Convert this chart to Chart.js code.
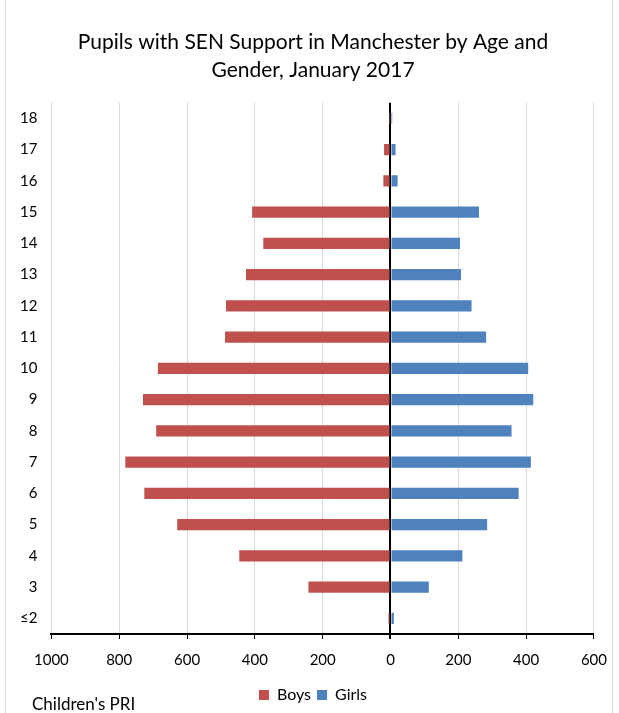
<!DOCTYPE html>
<html lang="en">
  <head>
    <meta charset="UTF-8" />
    <title>Pupils with SEN Support</title>
    <script src="https://cdn.jsdelivr.net/npm/chart.js@4.4.0/dist/chart.umd.min.js"></script>
    <style>
      body { margin: 0; background: #fff; }
      #wrap { position: relative; width: 619px; height: 713px; }
      #frame { position: absolute; left: 5px; top: -2px; width: 606px; height: 720px; border: 1px solid #d9d9d9; }
    </style>
  </head>
  <body>
    <div id="wrap">
      <div id="frame"></div>
      <canvas id="chart" width="619" height="713"></canvas>
    </div>

    <script>
      // ages, top row first
      const ages = ["18", "17", "16", "15", "14", "13", "12", "11", "10", "9", "8", "7", "6", "5", "4", "3", "≤2"];
      // boys shown to the left, so negative
      const boys = [-1, -19, -21, -408, -375, -426, -485, -488, -686, -730, -691, -782, -726, -629, -446, -242, -6];
      const girls = [5, 15, 21, 261, 205, 208, 239, 282, 406, 421, 357, 414, 378, 285, 212, 113, 10];

      const font = "Lato, 'Open Sans', sans-serif";

      // footer note under the plot + nudge title/legend to the right like excel does
      const extras = {
        id: "extras",
        afterLayout(chart) {
          [chart.titleBlock, chart.legend].forEach((b) => {
            b.left += 13;
            b.right += 13;
          });
        },
        afterDraw(chart) {
          const c = chart.ctx;
          c.save();
          c.font = "17px " + font;
          c.fillStyle = "#000";
          c.textBaseline = "middle";
          c.fillText("Children's PRI", 32, 705);
          c.restore();
        },
      };

      const ctx = document.getElementById("chart").getContext("2d");
      new Chart(ctx, {
        type: "bar",
        data: {
          labels: ages,
          datasets: [
            { label: "Boys", data: boys, backgroundColor: "#C0504D", barPercentage: 0.36, categoryPercentage: 1 },
            { label: "Girls", data: girls, backgroundColor: "#4F81BD", barPercentage: 0.36, categoryPercentage: 1 },
          ],
        },
        options: {
          indexAxis: "y",
          responsive: false,
          animation: false,
          layout: { padding: { left: 6, right: 25, top: 16, bottom: 0 } },
          plugins: {
            title: {
              display: true,
              text: ["Pupils with SEN Support in Manchester by Age and", "Gender, January 2017"],
              color: "#000",
              font: { family: font, size: 21, weight: "normal", lineHeight: 1.35 },
              padding: { top: 12, bottom: 18 },
            },
            legend: {
              position: "bottom",
              labels: {
                color: "#000",
                boxWidth: 10,
                boxHeight: 10,
                padding: 6,
                font: { family: font, size: 16 },
              },
            },
            tooltip: { enabled: false },
          },
          scales: {
            x: {
              stacked: true,
              min: -1000,
              max: 600,
              ticks: {
                stepSize: 200,
                color: "#000",
                padding: 12,
                font: { family: font, size: 15 },
                callback: (v) => Math.abs(v),
              },
              grid: {
                color: (c) => (c.tick && c.tick.value === 0 ? "#000" : "#d9d9d9"),
                lineWidth: (c) => (c.tick && c.tick.value === 0 ? 2 : 1),
                tickColor: "#000",
                tickLength: 5,
              },
              border: { display: true, color: "#000", width: 2 },
            },
            y: {
              stacked: true,
              ticks: { color: "#000", font: { family: font, size: 15 }, padding: 14 },
              grid: { display: false, drawTicks: false },
              border: { display: false },
            },
          },
        },
        plugins: [extras],
      });
    </script>
  </body>
</html>
